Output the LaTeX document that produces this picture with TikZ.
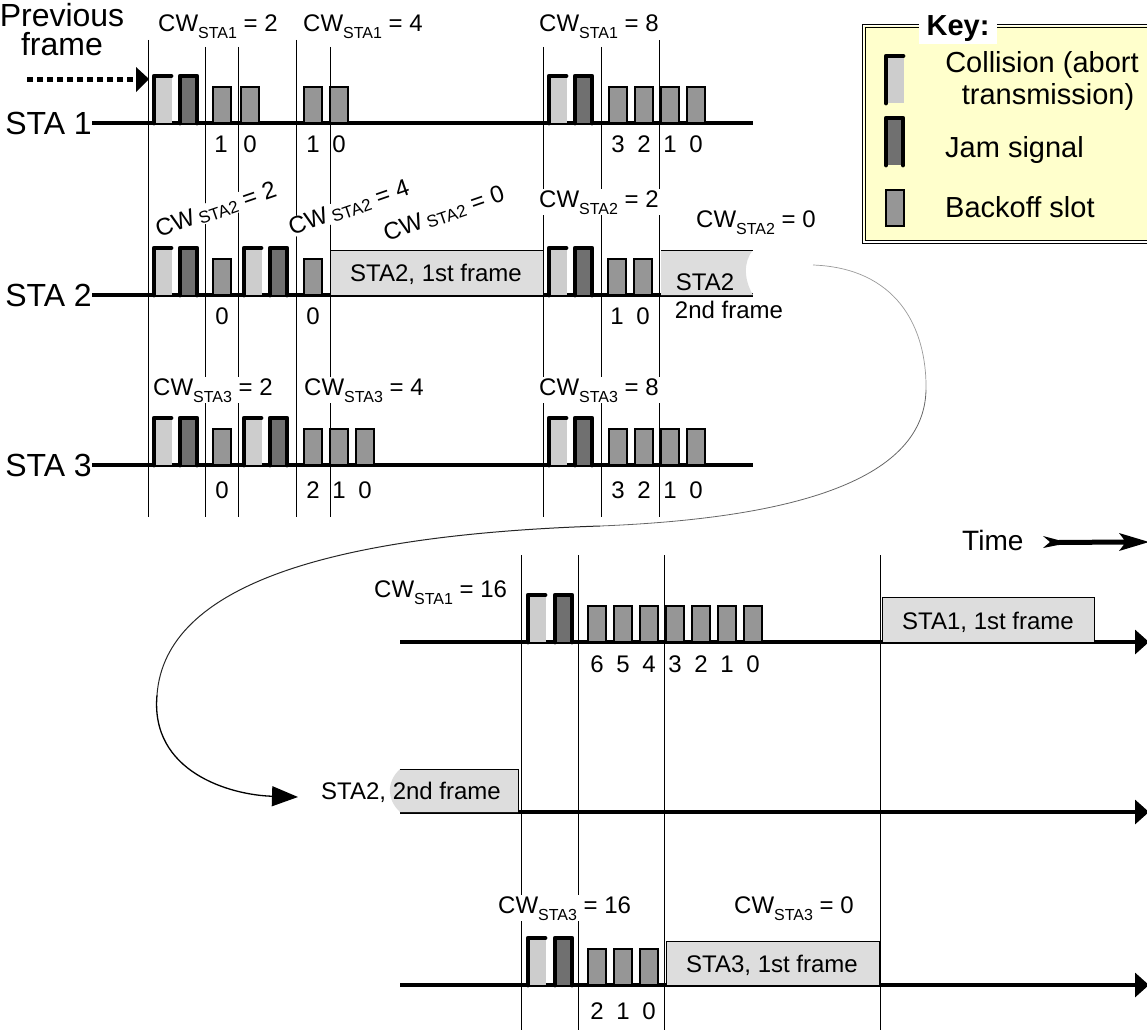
\documentclass[tikz,border=0pt]{standalone}
\usepackage{fontspec}
\setmainfont{Liberation Sans}
\usetikzlibrary{arrows.meta}
\definecolor{framegray}{RGB}{221,221,221}
\definecolor{slotgray}{RGB}{150,150,150}
\definecolor{collgray}{RGB}{205,205,205}
\definecolor{jamgray}{RGB}{112,112,112}
\definecolor{keyyellow}{RGB}{255,255,204}
\newcommand\fsz[1]{\fontsize{#1}{#1}\selectfont}
\newcommand\cwl[2]{CW\raisebox{-7pt}{\fsz{16}#1} = #2}
\newcommand\cwr[2]{CW\,\raisebox{-2pt}{\fsz{17}#1} = #2}
\newcommand\collsig[2]{%
  \fill[collgray] (#1+1,#2) rectangle (#1+18,#2-46);
  \draw[edge] (#1,#2) -- (#1,#2-47) -- (#1+17,#2-47);}
\newcommand\jamsig[2]{%
  \fill[jamgray] (#1,#2) rectangle (#1+17,#2-46);
  \draw[edge] (#1,#2) -- (#1,#2-47) -- (#1+17,#2-47) -- (#1+17,#2);}
\newcommand\bslot[2]{\draw[slotst] (#1,#2) rectangle (#1+18,#2-36);}
\begin{document}
\begin{tikzpicture}[x=1pt,y=-1pt,
  base/.style={line width=3.4pt},
  vline/.style={line width=0.8pt},
  edge/.style={line width=4.8pt,line cap=round,line join=round},
  slotst/.style={draw=black,line width=1.3pt,fill=slotgray},
  frm/.style={draw=black,line width=1pt,fill=framegray},
  lab/.style={font=\fsz{24},inner sep=0pt},
  cw/.style={font=\fsz{24},inner sep=1pt,fill=white,anchor=base west},
  cwrot/.style={font=\fsz{24},inner sep=0.3pt,fill=white,rotate=19},
  num/.style={font=\fsz{24},inner sep=0pt},
  sta/.style={font=\fsz{32},inner sep=0pt,anchor=east},
  keyt/.style={font=\fsz{29},inner sep=0pt}
]
\useasboundingbox (0,0) rectangle (1147,1033);
\clip (0,0) rectangle (1147,1033);

% ---- key box
\fill[keyyellow] (864,26) rectangle (1170,241);
\draw[line width=0.9pt] (862.5,24.5) rectangle (1175,243);
\draw[line width=0.8pt] (865.5,27.5) rectangle (1172,240);
\node[font=\fsz{29}\bfseries,fill=white,inner xsep=8pt,inner ysep=2pt] (key) at (958,29) {Key:};
\collsig{886}{103}
\jamsig{886}{165}
\bslot{886}{226}
\node[keyt,anchor=base] (k1) at (1042,72) {Collision (abort};
\node[keyt,anchor=base] (k2) at (1048,104) {transmission)};
\node[keyt,anchor=base west] (k3) at (945,157) {Jam signal};
\node[keyt,anchor=base west] (k4) at (945,217) {Backoff slot};

% ---- vertical slot boundaries
\foreach \x/\t in {148/40,205/47,238/47,296/40,330/47,543/47,601/47,659/40}
  \draw[vline] (\x,\t) -- (\x,517);
\foreach \x in {521,578,664,880}
  \draw[vline] (\x,555) -- (\x,1030);

% ---- station labels and time lines (top)
\node[sta] (s1) at (92,123) {STA 1};
\node[sta] (s2) at (92,295) {STA 2};
\node[sta] (s3) at (92,465) {STA 3};
\coordinate (e1) at (753,123);
\coordinate (e2) at (753,295);
\coordinate (e3) at (753,465);
\draw[base] (s1.east) -- (e1);
\draw[base] (s2.east) -- (e2);
\draw[base] (s3.east) -- (e3);

% ---- time lines (bottom)
\coordinate (b1s) at (400,642); \coordinate (b1e) at (1149,642);
\coordinate (b2s) at (400,812); \coordinate (b2e) at (1149,812);
\coordinate (b3s) at (400,985); \coordinate (b3e) at (1149,985);
\foreach \a/\b in {b1s/b1e,b2s/b2e,b3s/b3e}
  \draw[base,-{Triangle[length=14pt,width=24pt]}] (\a) -- (\b);

% ---- frames
\path[frm] (330,250) rectangle (543,295);
\fill[framegray] (661,250) -- (753,250) .. controls (743,262) and (744,280) .. (753,295) -- (661,295) -- cycle;
\draw[line width=1pt] (661,250) -- (753,250);
\path[frm] (882,597) rectangle (1094,642);
\path[frm] (666,941) rectangle (879,985);
\fill[framegray] (400,769) -- (518,769) -- (518,812) -- (400,812) .. controls (387,800) and (386,782) .. (400,769) -- cycle;
\draw[line width=1pt] (400,769) -- (518,769) -- (518,812);

% ---- STA 1 (top)
\collsig{154}{123} \jamsig{180}{123}
\foreach \x in {213,241,304,330} {\bslot{\x}{123}}
\collsig{549}{123} \jamsig{575}{123}
\foreach \x in {609,635,661,687} {\bslot{\x}{123}}

% ---- STA 2 (top)
\collsig{154}{295} \jamsig{180}{295} \bslot{213}{295}
\collsig{244}{295} \jamsig{270}{295} \bslot{304}{295}
\collsig{549}{295} \jamsig{575}{295}
\foreach \x in {608,634} {\bslot{\x}{295}}

% ---- STA 3 (top)
\collsig{154}{465} \jamsig{180}{465} \bslot{213}{465}
\collsig{244}{465} \jamsig{270}{465}
\foreach \x in {304,330,356} {\bslot{\x}{465}}
\collsig{549}{465} \jamsig{575}{465}
\foreach \x in {609,635,661,687} {\bslot{\x}{465}}

% ---- bottom STA 1 and STA 3
\collsig{528}{642} \jamsig{555}{642}
\foreach \x in {588,614,640,666,692,718,744} {\bslot{\x}{642}}
\collsig{528}{985} \jamsig{555}{985}
\foreach \x in {588,614,640} {\bslot{\x}{985}}

% ---- frame texts
\node[lab,anchor=base] (t21) at (436,281) {STA2, 1st frame};
\node[lab,anchor=base] (t22) at (705,290) {STA2};
\node[lab,anchor=base] (t22b) at (729,318) {2nd frame};
\node[lab,anchor=base] (tb1) at (988,629) {STA1, 1st frame};
\node[lab,anchor=base west] (tb2) at (321,799) {STA2, 2nd frame};
\node[lab,anchor=base] (tb3) at (772,972) {STA3, 1st frame};

% ---- backoff counters
\foreach \x/\t [count=\i] in {221/1,250/0,313/1,339/0,618/3,644/2,670/1,696/0}
  \node[num] (na\i) at (\x,144) {\t};
\foreach \x/\t [count=\i] in {222/0,313/0,617/1,643/0}
  \node[num] (nb\i) at (\x,316) {\t};
\foreach \x/\t [count=\i] in {222/0,313/2,339/1,365/0,618/3,644/2,670/1,696/0}
  \node[num] (nc\i) at (\x,490) {\t};
\foreach \x/\t [count=\i] in {597/6,623/5,649/4,675/3,701/2,727/1,753/0}
  \node[num] (nd\i) at (\x,664) {\t};
\foreach \x/\t [count=\i] in {597/2,623/1,649/0}
  \node[num] (ne\i) at (\x,1011) {\t};

% ---- contention window labels
\node[cw] (c11) at (157,32) {\cwl{STA1}{2}};
\node[cw] (c12) at (302,32) {\cwl{STA1}{4}};
\node[cw] (c13) at (538,32) {\cwl{STA1}{8}};
\node[cwrot] (c21) at (216,210) {\cwr{STA2}{2}};
\node[cwrot] (c22) at (349,208) {\cwr{STA2}{4}};
\node[cwrot] (c23) at (444,214) {\cwr{STA2}{0}};
\node[cw] (c24) at (538,207) {\cwl{STA2}{2}};
\node[cw] (c25) at (695,227) {\cwl{STA2}{0}};
\node[cw] (c31) at (152,395) {\cwl{STA3}{2}};
\node[cw] (c32) at (303,395) {\cwl{STA3}{4}};
\node[cw] (c33) at (538,395) {\cwl{STA3}{8}};
\node[cw] (c41) at (373,597) {\cwl{STA1}{16}};
\node[cw] (c43) at (497,913) {\cwl{STA3}{16}};
\node[cw] (c44) at (733,913) {\cwl{STA3}{0}};

% ---- previous frame
\node[font=\fsz{32},anchor=base,inner sep=0pt] (prev) at (62,27) {Previous};
\node[font=\fsz{32},anchor=base,inner sep=0pt] (prevf) at (62,56) {frame};
\coordinate (pa) at (27,79);
\coordinate (pb) at (137,79);
\draw[line width=5pt,dash pattern=on 6pt off 4pt] (pa) -- (pb);
\fill (136,67) -- (149,79) -- (136,92) -- cycle;

% ---- time arrow
\node[font=\fsz{28},anchor=base west,inner sep=0pt] (time) at (962,550) {Time};
\fill (1043,536) -- (1058,540) -- (1124,539.5) -- (1119,533) -- (1149,542) -- (1119,551) -- (1124,544.5) -- (1058,545) -- (1043,548) -- (1050,542) -- cycle;

% ---- continuation curve
\coordinate (cs) at (813,265);
\coordinate (cm1) at (926,390);
\coordinate (cm2) at (600,526);
\coordinate (cm3) at (157,695);
\coordinate (ce) at (298,797);
\draw[black!40,line width=0.7pt] (cs) .. controls (895,268) and (927,325) .. (cm1);
\draw[black!60,line width=0.8pt] (cm1) .. controls (924,478) and (800,518) .. (cm2);
\draw[black!85,line width=1pt] (cm2) .. controls (330,535) and (165,585) .. (cm3);
\draw[black,line width=1.3pt,-{Triangle[length=26pt,width=20pt]}] (cm3) .. controls (150,772) and (230,795) .. (ce);
\end{tikzpicture}
\end{document}
